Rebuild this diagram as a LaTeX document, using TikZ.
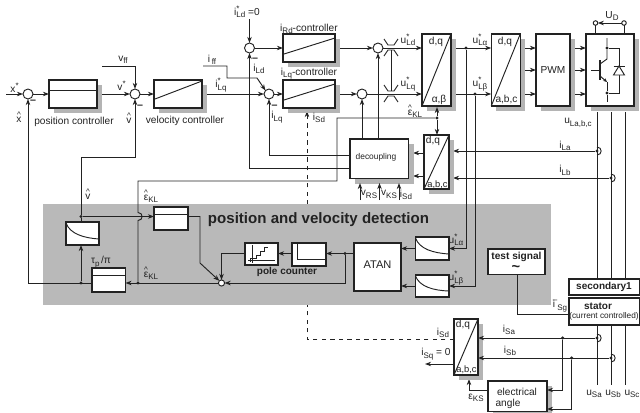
\documentclass[tikz,border=0pt]{standalone}
\usepackage{fontspec}
\setmainfont{Liberation Sans}
\usetikzlibrary{arrows.meta,calc}
\pgfdeclarelayer{bg}\pgfdeclarelayer{conn}\pgfdeclarelayer{shad}\pgfsetlayers{bg,conn,shad,main}
\definecolor{graybar}{HTML}{B9B9B9}
\definecolor{shadowc}{HTML}{B4B4B4}
\definecolor{inkc}{HTML}{222222}
\newcommand\subt[1]{\raisebox{-.45ex}{\fontsize{6}{6}\selectfont #1}}
\newcommand\supsub[2]{\rlap{\raisebox{.75ex}{\fontsize{6}{6}\selectfont #1}}\subt{#2}}
\newcommand\hatted[1]{\ooalign{\hfil\raisebox{.95ex}{\fontsize{6}{6}\selectfont\textasciicircum}\hfil\cr #1\cr}}
\newcommand\barred[1]{\ooalign{\hfil\raisebox{1.05ex}{\fontsize{6}{6}\selectfont –}\hfil\cr #1\cr}}
\newcommand\shadow[1]{\path[fill=shadowc,draw=none] ($(#1.north east)+(5,5)$) rectangle ($(#1.south west)+(5,5)$);}
\tikzset{
 x=0.75pt,y=-0.75pt,
 lin/.style={draw=inkc,line width=0.7pt},
 arr/.style={lin,-{Stealth[length=4.6pt,width=3.4pt]}},
 blk/.style 2 args={draw=inkc,line width=0.85pt,fill=white,inner sep=0,outer sep=0,minimum width=#1*0.75pt,minimum height=#2*0.75pt},
 sumn/.style={circle,draw=inkc,line width=0.7pt,fill=white,inner sep=0,outer sep=0,minimum size=7.5pt},
 dotn/.style={circle,fill=inkc,inner sep=0,outer sep=0,minimum size=2.6pt},
 lab/.style={inner sep=0,outer sep=0,font=\fontsize{7.6}{9}\selectfont,text=inkc,align=center},
 blab/.style={lab,font=\fontsize{7.6}{9}\bfseries\selectfont},
 inner/.style={draw=inkc,line width=0.7pt},
}
\begin{document}
\begin{tikzpicture}
\useasboundingbox (0,0) rectangle (640,412);
% blocks
\node[blk={48}{28}] (posc) at (73,94) {};
\node[blk={48}{28}] (velc) at (178,94) {};
\node[blk={52}{28}] (rdc) at (309,48) {};
\node[blk={52}{28}] (lqc) at (309,94) {};
\node[blk={29}{72}] (dqa) at (436.5,70) {};
\node[blk={29}{72}] (dqb) at (505.75,70) {};
\node[blk={34}{72}] (pwm) at (553,70) {};
\node[blk={48}{72}] (inv) at (610,70) {};
\node[blk={58.5}{39.5}] (dec) at (379.25,158.75) {};
\node[blk={25}{54}] (dqc) at (436.5,162) {};
\node[blk={24}{56}] (dqd) at (466,347) {};
\node[blk={59}{30.5}] (ea) at (517.5,396.25) {};
\node[blk={33}{23}] (lpa) at (82.5,233.5) {};
\node[blk={33.5}{24}] (tau) at (108.75,280) {};
\node[blk={34}{23}] (intg) at (171,218.5) {};
\node[blk={33}{22}] (poleb) at (261.5,254) {};
\node[blk={34}{23}] (stc) at (309,254.5) {};
\node[blk={47}{48}] (atan) at (377.5,267) {};
\node[blk={33.5}{23}] (lpb) at (432.25,248.5) {};
\node[blk={33.5}{22}] (lpc) at (432.25,286) {};
\node[blk={57}{25.5}] (test) at (516.5,261.75) {};
\node[blk={70.5}{16}] (sec) at (604.25,287) {};
\node[blk={70.5}{27}] (stat) at (604.25,311.5) {};
% sums and dots
\node[sumn] (sa) at (28,94) {};
\node[sumn] (sb) at (135,94) {};
\node[sumn] (sc) at (269,94) {};
\node[sumn] (sd) at (249.5,48) {};
\node[sumn] (se) at (378,48) {};
\node[sumn] (sf) at (362,94) {};
\node[sumn,minimum size=4.6pt] (sg) at (221.5,283) {};
\node[dotn] (dl) at (81,283) {};
\node[dotn] (dt) at (81,216.5) {};
\node[dotn] (dk) at (138,283) {};
\node[dotn] (de) at (437,118) {};
\node[dotn] (dla) at (466,48) {};
\node[dotn] (dlb) at (475,94) {};
\node[dotn] (dat) at (345,253.5) {};
\node[dotn] (dia) at (597,151) {};
\node[dotn] (dib) at (611,178) {};
\node[dotn] (dsa) at (597,338) {};
\node[dotn] (dsb) at (611,358) {};
\node[dotn] (dsc) at (562.7,338) {};
\node[dotn] (dsd) at (571.7,358) {};
\node[dotn] (dca) at (607,48) {};
\node[dotn] (dcb) at (607,93) {};
\node[circle,draw=inkc,line width=0.7pt,fill=white,inner sep=0,outer sep=0,minimum size=3.4pt] (ta) at (595.5,23) {};
\node[circle,draw=inkc,line width=0.7pt,fill=white,inner sep=0,outer sep=0,minimum size=3.4pt] (tb) at (624,23) {};
% free ends
\coordinate (xin) at (6,94);
\coordinate (vff) at (102,66);
\coordinate (iff) at (203,66);
\coordinate (ild) at (249.5,19);
\coordinate (tl) at (597,112);
\coordinate (tm) at (611,112);
\coordinate (tr) at (625,112);
\coordinate (bl) at (597,385);
\coordinate (bm) at (611,385);
\coordinate (br) at (625,385);
\coordinate (dsh) at (307,339);
\coordinate (isq) at (425,364);
\coordinate (ipa) at (453,151);
\coordinate (ipb) at (453,178);
\coordinate (ca) at (413,153);
\coordinate (cb) at (413,176);
% gray field and dashed line below it
\begin{pgfonlayer}{bg}
\draw[arr,dash pattern=on 3.2pt off 3.2pt] (dqd.west |- dsh) -- (dsh) -- (307,111);
\fill[graybar] (43,204) rectangle (551,305);
\end{pgfonlayer}
% connectors
\begin{pgfonlayer}{conn}
\draw[arr] (xin) -- (sa.west);
\draw[arr] (sa.east) -- (posc.west);
\draw[arr] (posc.east) -- (sb.west);
\draw[arr] (sb.east) -- (velc.west);
\draw[arr] (velc.east) -- (sc.west);
\draw[arr] (sc.east) -- (lqc.west);
\draw[arr] (vff) -| (sb.north);
\draw[arr] (iff) -- (227,66) -- (227,78) -- (257,78) -- (sc.north west);
\draw[arr] (ild) -- (sd.north);
\draw[arr] (sd.east) -- (rdc.west);
\draw[arr] (rdc.east) -- (se.west);
\draw[arr] (lqc.east) -- (sf.west);
\draw[arr] (se.east) -- (dqa.west |- se.east);
\draw[arr] (sf.east) -- (dqa.west |- sf.east);
\draw[arr] (dec.north -| se.south) -- (se.south);
\draw[arr] (dec.north -| sf.south) -- (sf.south);
\draw[arr] (dqa.east |- dla) -- (dqb.west |- dla);
\draw[arr] (dqa.east |- dlb) -- (dqb.west |- dlb);
\draw[arr] (dqb.east |- dla) -- (pwm.west |- dla);
\draw[arr] (dqb.east) -- (pwm.west);
\draw[arr] (dqb.east |- dlb) -- (pwm.west |- dlb);
\draw[arr] (pwm.east |- dla) -- (inv.west |- dla);
\draw[arr] (pwm.east) -- (inv.west);
\draw[arr] (pwm.east |- dlb) -- (inv.west |- dlb);
\draw[arr] (tau.west |- dl) -- (sa.south |- dl) -- (sa.south);
\draw[arr] (dl) -- (lpa.south -| dl);
\draw[arr] (dt) -- (81,157) -- (135,157) -- (sb.south);
\draw[lin] (dt) -- (lpa.north -| dt);
\draw[arr] (dt) -- (intg.west |- dt);
\draw[lin] (dk) -- (138,220.5) .. controls (143.5,220.5) and (143.5,212.5) .. (138,212.5) -- (138,181) -- (337,181) -- (337,118) -- (de);
\draw[arr] (dec.west |- 0,155) -- (sc.south |- 0,155) -- (sc.south);
\draw[arr] (dec.west |- 0,168.7) -- (sd.south |- 0,168.7) -- (sd.south);
\draw[arr] (dqc.north west |- ca) -- (ca);
\draw[arr] (dqc.north west |- cb) -- (cb);
\draw[arr] (dla) -- (dla |- lpb.east) -- (lpb.east);
\draw[arr] (dlb) -- (dlb |- lpc.east) -- (lpc.east);
\draw[arr] (lpb.west) -- (lpb.west -| atan.east);
\draw[arr] (lpc.west) -- (lpc.west -| atan.east);
\draw[arr] (atan.west |- dat) -- (stc.east |- dat);
\draw[arr] (stc.west |- dat) -- (poleb.east |- dat);
\draw[arr] (poleb.west |- dat) -- (sg.north |- dat) -- (sg.north);
\draw[arr] (dat) -- (dat |- sg.east) -- (sg.east);
\draw[arr] (sg.west) -- (tau.east |- sg.west);
\draw[arr] (intg.east |- dt) -- (200,216.5) -- (200,263) -- (sg.north west);
\draw[lin] (test.south -| 517.5,0) -- (517.5,314) -- (stat.west |- 0,314);
\draw[lin] (tl) -- (sec.north -| tl);
\draw[lin] (tm) -- (sec.north -| tm);
\draw[lin] (tr) -- (sec.north -| tr);
\draw[lin] (stat.south -| bl) -- (bl);
\draw[lin] (stat.south -| bm) -- (bm);
\draw[lin] (stat.south -| br) -- (br);
\draw[arr] (ea.west |- 0,390) -- (469,390) -- (469,379);
\draw[arr] (dqd.west |- isq) -- (isq);
\draw[arr] (dia) -- (ipa);
\draw[arr] (dib) -- (ipb);
\end{pgfonlayer}
% shadows of the blocks, above the connectors that run beneath them
\begin{pgfonlayer}{shad}
\shadow{posc}\shadow{velc}\shadow{rdc}\shadow{lqc}\shadow{dqa}\shadow{dqb}\shadow{pwm}\shadow{inv}\shadow{dec}\shadow{dqc}\shadow{dqd}\shadow{ea}
\end{pgfonlayer}
% connectors that lie over the shadows
\draw[arr] (de) -- (de |- 0,107);
\draw[arr] (de) -- (de |- dqc.north);
\draw[arr] (dsa) -- (dqd.east |- dsa);
\draw[arr] (dsb) -- (dqd.east |- dsb);
\draw[arr] (dsc) -- (dsc |- 0,390) -- (ea.east |- 0,390);
\draw[arr] (dsd) -- (dsd |- 0,409) -- (ea.east |- 0,409);
\draw[arr] (tb.west) -- (ta.east);
\draw[lin] (ta.south) -- (inv.north -| ta);
\draw[lin] (tb.south) -- (inv.north -| tb);
\draw[arr] (360,200) -- (360,183);
\draw[arr] (379.5,200) -- (379.5,183);
\draw[arr] (399,200) -- (399,183);
% sensor arcs
\draw[lin] (597,147) .. controls (602.5,147) and (602.5,155) .. (597,155);
\draw[lin] (611,174) .. controls (616.5,174) and (616.5,182) .. (611,182);
\draw[lin] (597,334) .. controls (602.5,334) and (602.5,342) .. (597,342);
\draw[lin] (611,354) .. controls (616.5,354) and (616.5,362) .. (611,362);
% block interiors
\draw[inner] (posc.west |- 0,90) -- (posc.east |- 0,90);
\draw[inner] (intg.west |- 0,214) -- (intg.east |- 0,214);
\draw[inner] (tau.west |- 0,275) -- (tau.east |- 0,275);
\draw[inner] (155,99) -- (202,81);
\draw[inner] (284,54) -- (335,38);
\draw[inner] (284,100) -- (335,84);
\draw[inner] (dqa.south west) -- (dqa.north east);
\draw[inner] (dqb.south west) -- (dqb.north east);
\draw[inner] (dqc.south west) -- (dqc.north east);
\draw[inner] (dqd.south west) -- (dqd.north east);
\draw[inner] (66,223) .. controls (70,234) and (84,238) .. (99,239);
\draw[inner] (415.5,238) .. controls (419.5,249) and (433,253) .. (449,254);
\draw[inner] (415.5,276) .. controls (419.5,286.5) and (433,290.5) .. (449,291);
\draw[inner] (297,244) -- (297,259.5) -- (326,259.5);
\draw[inner] (252,245) -- (252,263);
\draw[inner] (248,260) -- (275,260);
\draw[inner] (250,262) -- (250,258) -- (256,258) -- (256,255) -- (260,255) -- (260,251) -- (264,251) -- (264,247.5) -- (268,247.5);
% limiters
\draw[inner] (384,39) -- (388,45) -- (394,45) -- (398,39);
\draw[inner] (384,56) -- (388,50) -- (394,50) -- (398,56);
\draw[inner] (384,85) -- (388,91) -- (394,91) -- (398,85);
\draw[inner] (384,102) -- (388,96) -- (394,96) -- (398,102);
\draw[inner] (391,50) -- (391,91);
% transistor and diode
\draw[inner] (591,70) -- (600,70);
\draw[draw=inkc,line width=1.1pt] (600,60) -- (600,80);
\draw[inner] (607,38) -- (dca) -- (607,59) -- (600,64);
\draw[-{Stealth[length=3pt,width=2.6pt]},inner] (600,76) -- (607,82);
\draw[inner] (607,82) -- (dcb) -- (607,102);
\draw[inner] (dca) -- (619,48) -- (619,93) -- (dcb);
\draw[inner] (613.5,66) -- (624.5,66);
\draw[inner,fill=white] (619,66) -- (613.5,75) -- (624.5,75) -- cycle;
% labels
\node[lab] (lxs) at (13,88) {x\rlap{\raisebox{.7ex}{\fontsize{6}{6}\selectfont *}}};
\node[lab] (lxh) at (19,117) {\hatted{x}};
\node[lab,font=\fontsize{8}{9}\bfseries\selectfont] (ma) at (33,102) {–};
\node[lab] (lpos) at (74,122) {position controller};
\node[lab] (lvff) at (123,60) {v\subt{ff}};
\node[lab] (lvs) at (120,86) {v\rlap{\raisebox{.7ex}{\fontsize{6}{6}\selectfont *}}};
\node[lab] (lvh) at (129,118) {\hatted{v}};
\node[lab,font=\fontsize{8}{9}\bfseries\selectfont] (mb) at (140,107) {–};
\node[lab] (lvel) at (185,121) {velocity controller};
\node[lab] (liff) at (212,60) {i\,\subt{ff}};
\node[lab] (lilq) at (221,85) {i\supsub{*}{Lq}};
\node[lab] (lild) at (247,12) {i\supsub{*}{Ld} =0};
\node[lab,font=\fontsize{8}{9}\bfseries\selectfont] (mc) at (255,60) {–};
\node[lab] (lild2) at (259,69) {i\subt{Ld}};
\node[lab,font=\fontsize{8}{9}\bfseries\selectfont] (md) at (274.5,107) {–};
\node[lab] (lilq2) at (277,117) {i\subt{Lq}};
\node[lab] (lisd) at (319,118) {i\subt{Sd}};
\node[lab] (lrd) at (309,29) {i\subt{Rd}-controller};
\node[lab] (llq) at (309,73.5) {i\subt{Lq}-controller};
\node[lab] (luld) at (408,40) {u\supsub{*}{Ld}};
\node[lab] (lulq) at (408,84) {u\supsub{*}{Lq}};
\node[lab] (lula) at (480,40) {u\supsub{*}{Lα}};
\node[lab] (lulb) at (480,84) {u\supsub{*}{Lβ}};
\node[lab] (lda) at (436,41.5) {d,q};
\node[lab] (ldb) at (439,100) {α,β};
\node[lab] (ldc) at (505,41.5) {d,q};
\node[lab] (ldd) at (506.5,99.5) {a,b,c};
\node[lab] (lpwm) at (553,70.5) {PWM};
\node[lab] (lud) at (612,16) {U\subt{D}};
\node[lab] (lek) at (415,111) {\hatted{ε}\subt{KL}};
\node[lab] (lulabc) at (578,123) {u\subt{La,b,c}};
\node[lab,font=\fontsize{6.3}{8}\selectfont] (ldec) at (376,157) {decoupling};
\node[lab] (ldqe) at (433,141) {d,q};
\node[lab,font=\fontsize{7}{8}\selectfont] (labc) at (437.5,185) {a,b,c};
\node[lab] (lvrs) at (369,194.5) {v\subt{RS}};
\node[lab] (lvks) at (389,194.5) {v\subt{KS}};
\node[lab] (lisd2) at (406,195) {i\subt{Sd}};
\node[lab] (lila) at (565,146) {i\subt{La}};
\node[lab] (lilb) at (565,170.5) {i\subt{Lb}};
\node[lab] (lvh2) at (88,194) {\hatted{v}};
\node[lab] (lek2) at (151,196) {\hatted{ε}\subt{KL}};
\node[lab] (lek3) at (151,273) {\hatted{ε}\subt{KL}};
\node[lab] (ltp) at (101,262) {τ\subt{p}\,/π};
\node[lab,font=\fontsize{11.3}{12}\bfseries\selectfont] (ltitle) at (318.5,220) {position and velocity detection};
\node[blab,font=\fontsize{7.5}{9}\bfseries\selectfont] (lpcn) at (287,272) {pole counter};
\node[lab,font=\fontsize{8.3}{9}\selectfont] (latan) at (377.5,264.5) {ATAN};
\node[lab] (lua2) at (456,240) {u\supsub{*}{Lα}};
\node[lab] (lub2) at (456,278) {u\supsub{*}{Lβ}};
\node[blab] (ltest) at (516.5,256.5) {test signal};
\node[blab,font=\fontsize{11}{11}\bfseries\selectfont] (ltil) at (516,268.5) {\textasciitilde};
\node[blab,font=\fontsize{7.5}{9}\bfseries\selectfont] (lsec) at (604,287) {secondary1};
\node[blab,font=\fontsize{7.5}{9}\bfseries\selectfont] (lsta) at (598,306) {stator};
\node[lab,font=\fontsize{6.2}{7}\selectfont] (lcc) at (604,316) {(current controlled)};
\node[lab] (lisg) at (560,306) {\barred{i}\subt{Sg}};
\node[lab] (ldqg) at (463,325) {d,q};
\node[lab,font=\fontsize{7}{8}\selectfont] (labc2) at (466.5,370) {a,b,c};
\node[lab] (lisd3) at (443,333) {i\subt{Sd}};
\node[lab] (lisq) at (436,354) {i\subt{Sq} = 0};
\node[lab] (lisa) at (509,330) {i\subt{Sa}};
\node[lab] (lisb) at (510,351) {i\subt{Sb}};
\node[lab] (lea) at (517,392) {electrical};
\node[lab] (leb) at (508,404) {angle};
\node[lab] (leks) at (476,398) {ε\subt{KS}};
\node[lab] (lusa) at (594,394) {u\subt{Sa}};
\node[lab] (lusb) at (613,394) {u\subt{Sb}};
\node[lab] (lusc) at (632,394) {u\subt{Sc}};
\end{tikzpicture}
\end{document}
